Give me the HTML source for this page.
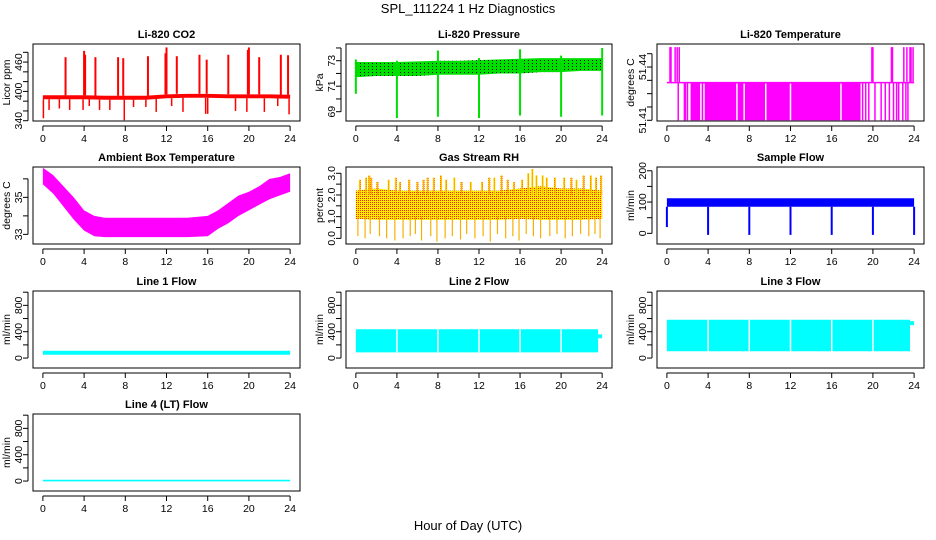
<!DOCTYPE html>
<html><head><meta charset="utf-8">
<style>
html,body{margin:0;padding:0;background:#fff;}
svg{display:block;font-family:"Liberation Sans",Arial,sans-serif;}
.t{font-size:10.5px;fill:#000;}
.ti{font-size:11px;font-weight:bold;fill:#000;}
</style></head>
<body>
<svg id="chart" width="936" height="540" viewBox="0 0 936 540">
<defs>
<pattern id="pg" width="4" height="3" patternUnits="userSpaceOnUse"><rect width="4" height="3" fill="#00e000"/><rect width="1" height="1" fill="#000"/></pattern>
<pattern id="prh" width="2" height="2" patternUnits="userSpaceOnUse"><rect width="2" height="2" fill="#ffee00"/><rect width="1" height="1" fill="#ff2000"/></pattern>
</defs>
<text x="468" y="13" text-anchor="middle" style="font-size:13px">SPL_111224  1 Hz Diagnostics</text>
<text x="468" y="530" text-anchor="middle" style="font-size:13px">Hour of Day (UTC)</text>
</svg>
<script>
// ---- data ----
const bandHours = [0,2,4,6,8,10,12,14,16,18,20,22,24];
// CO2
const co2Low = [384,384,384,383,383,383,386,387,387,386,386,386,385];
const co2High = [392,392,392,391,391,391,394,395,395,394,394,394,393];
const co2UpTimes = [2.2,4.0,4.1,5.1,7.3,7.8,10.2,11.9,12.0,13.0,15.2,15.9,18.0,19.9,20.0,21.0,23.1,23.8];
const co2UpVals = [470,483,475,470,470,468,472,478,490,472,475,465,475,485,490,470,475,474];
const co2DownTimes = [0.05,0.6,1.6,2.6,3.9,4.5,5.5,6.5,7.9,8.8,10.0,11.0,12.5,13.6,15.8,16.0,18.7,19.8,21.5,22.8,23.9];
const co2DownVals = [345,362,365,362,362,370,362,362,341,368,368,358,370,358,354,354,360,358,358,370,353];
// Pressure
const presLow = [71.7,71.8,71.8,71.8,71.9,71.9,71.9,72.0,72.0,72.1,72.1,72.2,72.2];
const presHigh = [72.9,72.9,72.9,72.95,73.0,73.0,73.05,73.1,73.15,73.2,73.2,73.2,73.2];
const presEventHours = [0,4,8,12,16,20,24];
const presDipVals = [70.4,68.5,68.6,68.5,68.7,68.6,68.7];
const presPeakVals = [73.1,73.0,73.8,73.2,73.9,73.4,74.0];
// Li-820 temperature
const tLow = 51.41, tMid = 51.4312, tHigh = 51.4512;
const tFillStart = 2.3, tFillEnd = 18.8;
const tGapHours = [3.3,3.6,6.8,7.5,9.6,12.0,16.9];
const tUpHours = [0.3,0.4,0.8,1.0,1.2,19.9,20.0,21.8,21.9,23.0,23.3,23.6,23.7,23.9];
const tDownHours = [1.1,1.7,1.8,2.0,19.0,19.3,19.6,20.2,20.8,21.2,21.6,22.0,22.3,22.5,22.9,23.2,23.4];
// Ambient box temperature
const ambHours = [0,1,2,3,4,5,6,8,10,12,14,16,17,18,19,20,21,22,23,24];
const ambHigh = [36.6,36.2,35.6,35.0,34.3,34.0,33.9,33.9,33.9,33.9,33.9,34.0,34.3,34.7,35.1,35.3,35.6,36.0,36.1,36.3];
const ambLow = [35.7,35.2,34.5,33.8,33.2,32.9,32.85,32.85,32.85,32.85,32.85,32.9,33.3,33.6,34.0,34.3,34.6,34.9,35.1,35.3];
// Gas stream RH
const rhLow = [0.9,0.85,0.85,0.85,0.85,0.85,0.85,0.85,0.9,0.85,0.85,0.85,0.9];
const rhHigh = [2.2,2.3,2.2,2.2,2.2,2.2,2.2,2.2,2.3,2.4,2.3,2.3,2.2];
const rhUpTimes = [0.4,1.0,1.3,1.5,2.1,3.2,3.9,4.3,5.2,6.0,6.6,7.0,7.6,8.3,8.8,9.6,10.3,11.2,12.3,13.0,13.5,14.2,14.8,15.4,16.2,16.8,17.2,17.6,18.2,18.6,19.4,20.3,21.0,21.5,22.2,22.9,23.4,23.9];
const rhUpVals = [2.7,2.8,2.9,2.8,2.6,2.7,2.8,2.6,2.7,2.6,2.7,2.8,2.8,2.9,2.7,2.8,2.6,2.6,2.6,2.8,2.8,2.9,2.7,2.6,2.7,3.0,3.2,2.9,2.9,2.8,2.8,2.8,2.8,2.7,2.9,2.9,2.8,2.9];
const rhDownTimes = [0.2,0.9,1.4,2.3,3.0,3.8,4.6,5.3,5.8,6.4,7.3,7.9,8.7,9.4,10.2,10.8,11.6,12.4,13.1,13.8,14.6,15.3,15.9,16.6,17.3,18.0,18.9,19.6,20.4,21.1,21.9,22.7,23.3,23.8];
const rhDownVals = [0.1,0.0,0.2,0.1,0.0,-0.1,0.0,0.1,0.2,-0.1,0.1,-0.15,0.0,0.1,-0.05,0.2,0.0,0.1,-0.15,0.2,0.0,0.1,-0.1,0.2,0.1,0.0,0.1,0.2,0.0,0.1,0.2,0.1,0.2,0.0];
// Sample flow
const sfLow = [85,85,85,85,85,85,85,85,85,85,85,85,85];
const sfHigh = [112,112,112,112,112,112,112,112,112,112,112,112,112];
const sfDipHours = [0,4,8,12,16,20,24];
const sfDipVals = [20,-5,-5,-5,-5,-5,-5];
// Line flows
const l1Low = 50, l1High = 110;
const l2Low = 87, l2High = 437;
const l3Low = 103, l3High = 582;
const l4Low = -5, l4High = 20;
const lineGapHours = [4,8,12,16,20];

// ---- layout ----
const svg = document.getElementById('chart');
const NS = 'http://www.w3.org/2000/svg';
const colL = [33,346,657], colW = [267,266,267];
const rowT = [44,167,291,414], BH = 77;
function mk(tag, attrs, parent){
  const e = document.createElementNS(NS, tag);
  for (const k in attrs) e.setAttribute(k, attrs[k]);
  (parent||svg).appendChild(e);
  return e;
}
function panel(col,row,ylo,yhi,ticks,labels,ylab,title,name){
  const L=colL[col], W=colW[col], T=rowT[row];
  const g = mk('g',{});
  
  
  const X = h => L + (h+0.96)/25.92*W;
  const Y = v => T + BH - (v-ylo)/(yhi-ylo)*BH;
  const plot = mk('g',{},g);
  
  
  const box = mk('rect',{x:L,y:T,width:W,height:BH,fill:'none',stroke:'#000','stroke-width':1},g);
  
  
  const tt = mk('text',{x:L+W/2,y:T-6,'text-anchor':'middle',class:'ti'},g);
  tt.textContent = title;
  
  
  const xa = mk('g',{},g);
  
  
  const yb = T+BH+5;
  mk('line',{x1:X(0),x2:X(24),y1:yb,y2:yb,stroke:'#000'},xa);
  for (let h=0; h<=24; h+=4){
    mk('line',{x1:X(h),x2:X(h),y1:yb,y2:yb+5,stroke:'#000'},xa);
    const t = mk('text',{x:X(h),y:yb+16,'text-anchor':'middle',class:'t'},xa);
    t.textContent = h;
  }
  const ya = mk('g',{},g);
  
  
  const xl = L-5;
  mk('line',{x1:xl,x2:xl,y1:Y(ticks[0]),y2:Y(ticks[ticks.length-1]),stroke:'#000'},ya);
  ticks.forEach((v,i)=>{
    mk('line',{x1:xl,x2:xl-5,y1:Y(v),y2:Y(v),stroke:'#000'},ya);
    if (labels[i]){
      const t = mk('text',{x:0,y:0,'text-anchor':'middle',class:'t',transform:`translate(${L-11},${Y(v)}) rotate(-90)`},ya);
      t.textContent = labels[i];
    }
  });
  const yt = mk('text',{x:0,y:0,'text-anchor':'middle',class:'t',transform:`translate(${L-23},${T+BH/2}) rotate(-90)`},g);
  yt.textContent = ylab;
  
  
  return {g:plot,X,Y};
}
function band(p,hrs,lo,hi,fill){
  let pts = hrs.map((h,i)=>p.X(h)+','+p.Y(hi[i]));
  pts = pts.concat(hrs.map((h,i)=>p.X(h)+','+p.Y(lo[i])).reverse());
  return mk('polygon',{points:pts.join(' '),fill:fill,stroke:'none'},p.g);
}
function vline(p,h,a,b,color,w){
  return mk('line',{x1:p.X(h),x2:p.X(h),y1:p.Y(a),y2:p.Y(b),stroke:color,'stroke-width':w||1.5},p.g);
}
function flat(p,lo,hi,fill){
  return band(p,[0,24],[lo,lo],[hi,hi],fill);
}

// CO2
let p = panel(0,0,339.4,497,[340,360,380,400,420,440,460,480],['340','','','400','','','460',''],'Licor ppm','Li-820 CO2','co2-panel');
let e = band(p,bandHours,co2Low,co2High,'#ff0000');

co2UpTimes.forEach((h,i)=>vline(p,h,co2High[Math.round(h/2)],co2UpVals[i],'#ff0000',2));
co2DownTimes.forEach((h,i)=>vline(p,h,co2Low[Math.round(h/2)],co2DownVals[i],'#ff0000',1.5));

// Pressure
p = panel(1,0,68.27,74.31,[69,70,71,72,73,74],['69','','71','','73',''],'kPa','Li-820 Pressure','pressure-panel');
e = band(p,bandHours,presLow,presHigh,'url(#pg)');

presEventHours.forEach((h,i)=>{ vline(p,h,presDipVals[i],presPeakVals[i],'#00e000',2); });

// Li-820 temperature
p = panel(2,0,51.41-0.7/1776,51.41+76.3/1776,[51.41,51.4175,51.425,51.4325,51.44,51.4475],['51.41','','','','51.44',''],'degrees C','Li-820 Temperature','licor-temp-panel');
e = mk('rect',{x:p.X(tFillStart),y:p.Y(tMid),width:p.X(tFillEnd)-p.X(tFillStart),height:p.Y(tLow)-p.Y(tMid),fill:'#ff00ff'},p.g);

tGapHours.forEach(h=>vline(p,h,tLow,tMid-0.0005,'#ffffff',1.5));
mk('line',{x1:p.X(0),x2:p.X(24),y1:p.Y(tMid),y2:p.Y(tMid),stroke:'#ff00ff','stroke-width':1.5},p.g);
tUpHours.forEach(h=>vline(p,h,tMid,tHigh,'#ff00ff',1.5));
tDownHours.forEach(h=>vline(p,h,tLow,tMid,'#ff00ff',1.5));

// Ambient
p = panel(0,1,32.48,36.64,[33,34,35,36],['33','','35',''],'degrees C','Ambient Box Temperature','ambient-temp-panel');
e = band(p,ambHours,ambLow,ambHigh,'#ff00ff');


// RH
p = panel(1,1,-0.26,3.29,[0,0.5,1,1.5,2,2.5,3],['0.0','','1.0','','2.0','','3.0'],'percent','Gas Stream RH','rh-panel');
e = band(p,bandHours,rhLow,rhHigh,'url(#prh)');

rhUpTimes.forEach((h,i)=>vline(p,h,2.0,rhUpVals[i],'url(#prh)',2));
rhUpTimes.forEach((h,i)=>vline(p,h,2.0,rhUpVals[i],'#f8b000',1.2));
rhDownTimes.forEach((h,i)=>vline(p,h,1.0,rhDownVals[i],'#f8b000',1.2));

// Sample flow
p = panel(2,1,-34,212,[0,50,100,150,200],['0','','100','','200'],'ml/min','Sample Flow','sample-flow-panel');
e = band(p,bandHours,sfLow,sfHigh,'#0000ff');

sfDipHours.forEach((h,i)=>vline(p,h,sfDipVals[i],sfLow[0],'#0000ff',2));

// Line flows
const fticks=[0,200,400,600,800,1000], flabs=['0','','400','','800',''];
p = panel(0,2,-151,1018,fticks,flabs,'ml/min','Line 1 Flow','line1-flow-panel');
e = flat(p,l1Low,l1High,'#00ffff');

p = panel(1,2,-151,1018,fticks,flabs,'ml/min','Line 2 Flow','line2-flow-panel');
e = band(p,[0,23.6],[l2Low,l2Low],[l2High,l2High],'#00ffff');

e = band(p,[23.6,24],[300,300],[360,360],'#00ffff');
lineGapHours.forEach(h=>vline(p,h,l2Low,l2High,'#ffffff',1.5));
p = panel(2,2,-151,1018,fticks,flabs,'ml/min','Line 3 Flow','line3-flow-panel');
e = band(p,[0,23.6],[l3Low,l3Low],[l3High,l3High],'#00ffff');

e = band(p,[23.6,24],[500,500],[560,560],'#00ffff');
lineGapHours.forEach(h=>vline(p,h,l3Low,l3High,'#ffffff',1.5));
p = panel(0,3,-151,1018,fticks,flabs,'ml/min','Line 4 (LT) Flow','line4-flow-panel');
e = flat(p,l4Low,l4High,'#00ffff');

</script>
</body></html>
